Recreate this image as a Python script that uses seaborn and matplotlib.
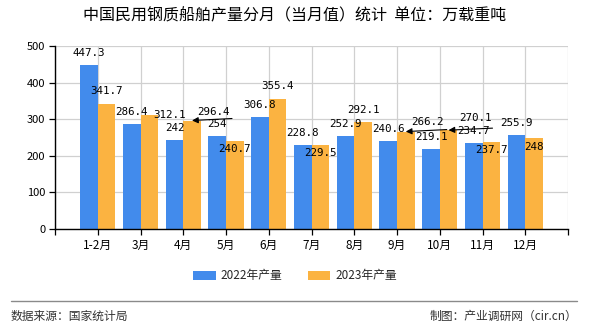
import matplotlib
matplotlib.use("Agg")
import matplotlib.pyplot as plt
import seaborn as sns
import pandas as pd

# ---- data ----
months = ["1-2月", "3月", "4月", "5月", "6月", "7月", "8月", "9月", "10月", "11月", "12月"]
series_names = ["2022年产量", "2023年产量"]
values_2022 = [447.3, 286.4, 242, 254, 306.8, 228.8, 252.9, 240.6, 219.1, 234.7, 255.9]
values_2023 = [341.7, 312.1, 296.4, 240.7, 355.4, 229.5, 292.1, 266.2, 270.1, 237.7, 248]
y_ticks = [0, 100, 200, 300, 400, 500]
title = "中国民用钢质船舶产量分月（当月值）统计  单位：万载重吨"
source_text = "数据来源：国家统计局"
credit_text = "制图：产业调研网（cir.cn）"

# ---- style ----
colors = ["#428BEC", "#FBB341"]
# label offsets in pixels (dx, dy) and whether a leader arrow is drawn
offsets_2022 = [(0, 12)] * 11
offsets_2023 = [(0, 13), (20, 0), (21, 9), (0, -8), (0, 13), (0, -8),
                (0, 12), (22, 10), (27, 12), (0, -8), (0, -9)]
arrow_len_2023 = [0, 0, 40, 0, 0, 0, 0, 41, 44, 0, 0]

sns.set_theme(style="white")
plt.rcParams["font.family"] = ["Noto Sans CJK SC", "DejaVu Sans"]

df = pd.DataFrame({
    "month": months * 2,
    "series": [series_names[0]] * len(months) + [series_names[1]] * len(months),
    "value": values_2022 + values_2023,
})

W, H = 590, 330
fig = plt.figure(figsize=(W / 100, H / 100), dpi=100)
ax = fig.add_axes([55 / W, 1 - 229 / H, (568 - 55) / W, (229 - 46) / H])

sns.barplot(data=df, x="month", y="value", hue="series", palette=colors,
            width=0.82, saturation=1, linewidth=0, ax=ax, legend=True)

ax.set_xlim(-1, len(months))
ax.set_ylim(0, 500)
ax.set_yticks(y_ticks)
ax.set_yticklabels([str(t) for t in y_ticks], fontsize=8, color="#000000")
ax.set_xticks(range(-1, len(months) + 1))
ax.set_xticklabels([""] + months + [""], fontsize=8.5, color="#000000")
ax.set_xlabel("")
ax.set_ylabel("")

ax.grid(True, axis="both", color="#D0D0D0", linewidth=0.9)
ax.set_axisbelow(True)
for s in ["top", "right"]:
    ax.spines[s].set_visible(False)
for s in ["left", "bottom"]:
    ax.spines[s].set_color("#000000")
    ax.spines[s].set_linewidth(1.0)
ax.tick_params(axis="both", which="both", length=4, width=0.9, color="#000000",
               direction="out", bottom=True, left=True, pad=3)

px = 0.72  # points per pixel
label_font = dict(fontsize=7.8, family=["DejaVu Sans Mono"], color="#000000")
for ci, (cont, offs) in enumerate(zip(ax.containers, [offsets_2022, offsets_2023])):
    for bi, bar in enumerate(cont):
        xc = bar.get_x() + bar.get_width() / 2
        top = bar.get_height()
        val = [values_2022, values_2023][ci][bi]
        dx, dy = offs[bi]
        ax.annotate(f"{val:g}", xy=(xc, top), xytext=(dx * px, dy * px),
                    textcoords="offset points", ha="center", va="center",
                    **label_font)
        if ci == 1 and arrow_len_2023[bi]:
            ax.annotate("", xy=(xc, top), xycoords="data",
                        xytext=(arrow_len_2023[bi] * px, 2 * px), textcoords="offset points",
                        arrowprops=dict(arrowstyle="-|>", color="#000000", lw=0.8,
                                        shrinkA=0, shrinkB=0, mutation_scale=9))

# legend
handles, labels = ax.get_legend_handles_labels()
ax.legend_.remove()
fig.legend(handles, labels, loc="center", bbox_to_anchor=(0.5, 1 - 276 / H),
           ncol=2, frameon=False, fontsize=8.5, handlelength=1.9, handleheight=0.8,
           columnspacing=2.2, handletextpad=0.4)

# title
fig.text(0.5, 1 - 16 / H, title, ha="center", va="center", fontsize=11.5, color="#000000")

# footer
fig.add_artist(plt.Line2D([11 / W, 577 / W], [1 - 301 / H, 1 - 301 / H],
                          color="#8A8A8A", linewidth=1.0, transform=fig.transFigure))
fig.text(11 / W, 1 - 316 / H, source_text, ha="left", va="center", fontsize=8.5, color="#333333")
fig.text(577 / W, 1 - 316 / H, credit_text, ha="right", va="center", fontsize=8.5, color="#333333")

fig.savefig("out.png", dpi=100, facecolor="white")
